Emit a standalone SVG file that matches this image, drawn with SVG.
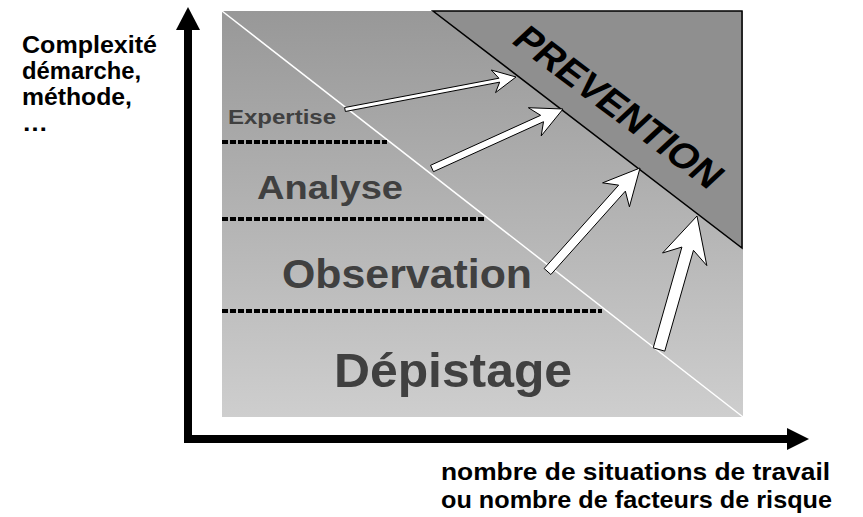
<svg xmlns="http://www.w3.org/2000/svg" width="863" height="517" viewBox="0 0 863 517">
<style>
.lbl{font-family:"Liberation Sans",Arial,sans-serif;font-weight:bold;fill:#404040}
.axl{font-family:"Liberation Sans",Arial,sans-serif;font-weight:bold;fill:#000;font-size:23px}
.dot{stroke:#000;stroke-width:4;stroke-dasharray:6 2;fill:none}
.arr{fill:#fff;stroke:#000;stroke-width:1;stroke-linejoin:miter}
</style>
<defs>
<linearGradient id="bg" x1="0" y1="0" x2="0" y2="1">
<stop offset="0" stop-color="#989898"/>
<stop offset="1" stop-color="#cecece"/>
</linearGradient>
</defs>
<rect width="863" height="517" fill="#fff"/>
<g id="zone">
<rect x="222" y="11" width="521" height="406" fill="url(#bg)"/>
<line x1="222" y1="11" x2="743" y2="417" stroke="#fff" stroke-width="1.5"/>
</g>
<g id="separators">
<line class="dot" x1="222" y1="142" x2="387" y2="142"/>
<line class="dot" x1="222" y1="219" x2="484" y2="219"/>
<line class="dot" x1="222" y1="311" x2="602" y2="311"/>
</g>
<g id="prevention">
<polygon points="433,11 742,11 742,248" fill="#8f8f8f" stroke="#000" stroke-width="1.5"/>
<text transform="translate(510,42) scale(1.2,1) rotate(41.9)" font-family="Liberation Sans, Arial, sans-serif" font-weight="bold" font-size="35" textLength="222" lengthAdjust="spacingAndGlyphs" fill="#000">PREVENTION</text>
</g>
<g id="expertise"><text class="lbl" x="228" y="124" font-size="20" textLength="108" lengthAdjust="spacingAndGlyphs">Expertise</text></g>
<g id="analyse"><text class="lbl" x="257" y="199" font-size="34" textLength="146" lengthAdjust="spacingAndGlyphs">Analyse</text></g>
<g id="observation"><text class="lbl" x="282" y="288" font-size="40" textLength="250" lengthAdjust="spacingAndGlyphs">Observation</text></g>
<g id="depistage"><text class="lbl" x="334" y="387" font-size="49" textLength="238" lengthAdjust="spacingAndGlyphs">Dépistage</text></g>
<g id="connectors">
<polygon class="arr" points="344.63,107.54 498.93,78.22 491.25,70.00 516,77 495.55,92.60 499.67,82.15 345.37,111.47"/>
<polygon class="arr" points="430.55,165.31 540.61,115.33 528.37,107.71 563,109 541.19,135.93 543.51,121.71 433.45,171.69"/>
<polygon class="arr" points="544.15,268.50 618.66,185.13 602.59,182.85 640,168 629.43,206.85 625.37,191.13 550.86,274.50"/>
<polygon class="arr" points="653.23,347.86 681.92,247.06 662.56,252.98 697,216 706.80,265.58 693.46,250.34 664.77,351.14"/>
</g>
<g id="axes">
<rect x="184" y="28" width="8" height="415" fill="#000"/>
<polygon points="176,30 188,7 200,30" fill="#000"/>
<rect x="184" y="435" width="605" height="8" fill="#000"/>
<polygon points="787,428 809,439 787,450" fill="#000"/>
</g>
<g id="y-label">
<text class="axl" x="22" y="53" textLength="135" lengthAdjust="spacingAndGlyphs">Complexité</text>
<text class="axl" x="22" y="79" textLength="119" lengthAdjust="spacingAndGlyphs">démarche,</text>
<text class="axl" x="22" y="105" textLength="110" lengthAdjust="spacingAndGlyphs">méthode,</text>
<text class="axl" x="22" y="131" textLength="26" lengthAdjust="spacingAndGlyphs">…</text>
</g>
<g id="x-label">
<text class="axl" x="441" y="480" style="font-size:24px" textLength="389" lengthAdjust="spacingAndGlyphs">nombre de situations de travail</text>
<text class="axl" x="441" y="508" style="font-size:24px" textLength="391" lengthAdjust="spacingAndGlyphs">ou nombre de facteurs de risque</text>
</g>
</svg>
